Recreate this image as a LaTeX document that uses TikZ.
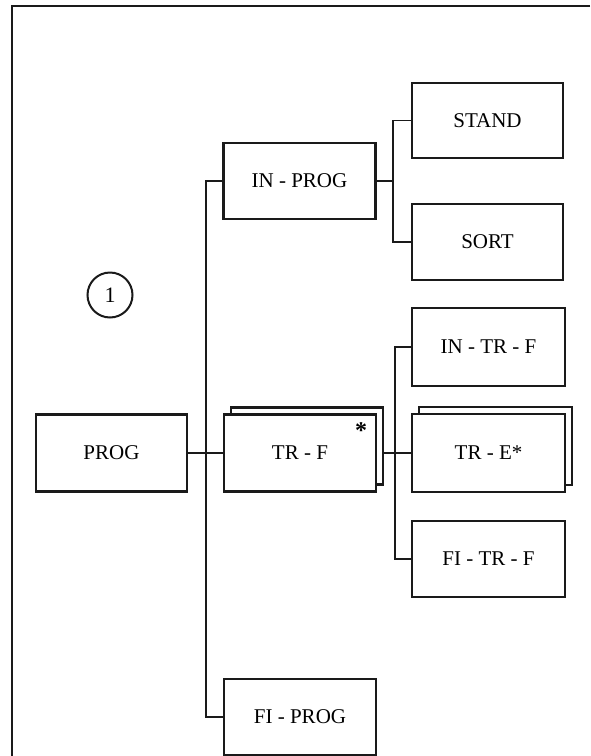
\documentclass[tikz,border=0pt]{standalone}
\usepackage{fontspec}
\setmainfont{Liberation Serif}
\usepackage{tikz}
\usetikzlibrary{positioning, shadows, calc}
\definecolor{inkdraw}{HTML}{1A1A1A}
\tikzset{
  blk/.style={rectangle, draw=inkdraw, fill=white, line width=2.2pt, align=center, inner sep=0pt,
    font=\fontsize{21}{24}\selectfont, minimum width=152pt, minimum height=76pt},
  stack/.style={blk, copy shadow={shadow xshift=7pt, shadow yshift=7pt}},
  wire/.style={draw=inkdraw, line width=1.5pt},
  frame/.style={draw=inkdraw, line width=2.8pt},
}
\begin{document}
\begin{tikzpicture}[x=1pt, y=-1pt]
  \useasboundingbox (0,0) rectangle (590,756);
  \draw[frame] (590,6) -- (12,6) -- (12,756);

  % left level
  \node[blk, minimum width=151pt, minimum height=77pt] (prog) at (111.5,453) {PROG};
  \node[circle, draw=inkdraw, line width=2pt, minimum size=45pt, inner sep=0pt,
    font=\fontsize{22}{24}\selectfont] (num) at (110,295) {1};

  % middle level
  \node[blk] (inprog) at (299.5,181) {IN - PROG};
  \node[stack, minimum height=77pt] (trf) at (300,453) {TR - F};
  \node[font=\fontsize{24}{24}\selectfont\bfseries] (star) at (361,431) {*};
  \node[blk] (fiprog) at (300,717) {FI - PROG};

  % right level
  \node[blk, minimum width=151pt, minimum height=75pt] (stand) at (487.5,120.5) {STAND};
  \node[blk, minimum width=151pt] (sort) at (487.5,242) {SORT};
  \node[blk, minimum width=153pt, minimum height=78pt] (intrf) at (488.5,347) {IN - TR - F};
  \node[stack, minimum width=153pt, minimum height=78pt] (tre) at (488.5,453) {TR - E*};
  \node[blk, minimum width=153pt] (fitrf) at (488.5,559) {FI - TR - F};

  % connectors
  \coordinate (spine) at (206,181);
  \coordinate (ij) at (393,181);
  \coordinate (tj) at (395,453);
  \draw[wire] (inprog.west) -- (spine) |- (fiprog.west);
  \draw[wire] (prog.east) -- (trf.west);
  \draw[wire] (inprog.east) -- (ij);
  \draw[wire] (stand.west) -| (ij) |- (sort.west);
  \draw[wire] ([xshift=7pt]trf.east) -- (tre.west);
  \draw[wire] (intrf.west) -| (tj) |- (fitrf.west);
\end{tikzpicture}
\end{document}
